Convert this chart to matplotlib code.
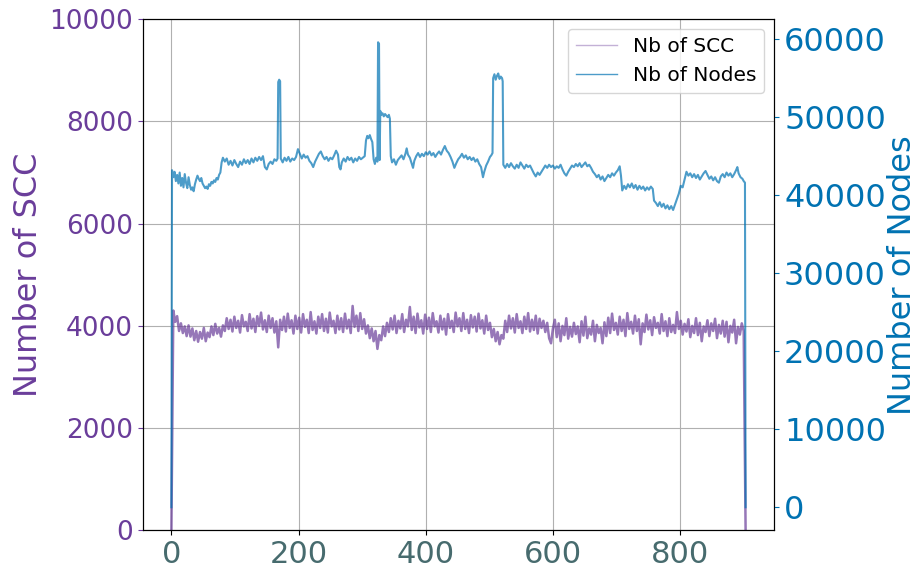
import numpy as np
import matplotlib
matplotlib.use("Agg")
import matplotlib.pyplot as plt
from matplotlib.lines import Line2D

# ---------------- data ----------------
scc_step = 3
scc_values = [
    0, 4300, 4080, 4190, 3900, 4050, 3860, 3990, 3800, 4010,
    3790, 3950, 3720, 3900, 3690, 3880, 3750, 3960, 3700, 3870,
    3780, 3990, 3820, 4040, 3850, 3960, 3790, 4010, 3900, 4150,
    3940, 4120, 3890, 4180, 3960, 4100, 3870, 4210, 3990, 4080,
    3900, 4230, 3950, 4140, 3880, 4190, 4000, 4260, 3930, 4110,
    3880, 4200, 3960, 4150, 3870, 4090, 3580, 4120, 3920, 4180,
    3890, 4240, 3960, 4110, 3850, 4200, 3940, 4160, 3870, 4230,
    3980, 4120, 3860, 4270, 3920, 4090, 3850, 4180, 3960, 4230,
    3900, 4140, 3870, 4260, 3990, 4100, 3860, 4200, 3930, 4150,
    3880, 4240, 3950, 4120, 3860, 4390, 3980, 4200, 3900, 4250,
    3940, 4130, 3850, 4010, 3760, 3950, 3700, 3900, 3550, 3820,
    3720, 3990, 3800, 4060, 3880, 4150, 3930, 4200, 3860, 4100,
    3950, 4230, 3880, 4120, 3990, 4370, 3920, 4180, 3860, 4240,
    3970, 4110, 3850, 4220, 3940, 4160, 3880, 4250, 3990, 4090,
    3870, 4200, 3930, 4140, 3830, 4230, 3960, 4100, 3880, 4260,
    3990, 4150, 3900, 4250, 3940, 4120, 3860, 4210, 3970, 4180,
    3890, 4240, 3950, 4110, 3850, 4200, 3920, 4060, 3780, 3940,
    3700, 3880, 3640, 3820, 3750, 4100, 3880, 4200, 3950, 4150,
    3870, 4230, 3960, 4090, 3860, 4180, 3940, 4250, 3890, 4120,
    3920, 4200, 3850, 4140, 3960, 4100, 3880, 4060, 3760, 3660,
    3950, 4120, 3780, 4050, 3700, 4000, 3820, 4150, 3750, 3980,
    3790, 4060, 3840, 3990, 3680, 4090, 3810, 4180, 3760, 3950,
    3830, 4100, 3700, 4020, 3860, 3960, 3660, 4070, 3800, 4160,
    3860, 4240, 3920, 4060, 3830, 4180, 3900, 4120, 3800, 4250,
    3940, 4080, 3850, 4200, 3900, 4130, 3640, 4050, 3880, 4220,
    3930, 4110, 3820, 4170, 3960, 4060, 3850, 4230, 3900, 4090,
    3800, 4150, 3880, 4020, 3860, 4270, 3940, 4100, 3830, 4040,
    3890, 4130, 3780, 4000, 3860, 4150, 3820, 4060, 3700, 3990,
    3880, 4110, 3800, 4050, 3900, 4140, 3760, 4020, 3850, 4100,
    3790, 4080, 3680, 4000, 3870, 4120, 3660, 3980, 3830, 4050,
    3900, 0,
]

node_t = [
    0, 1, 3, 5, 7, 9, 11, 13, 15, 17, 19, 21, 23, 25, 27, 29, 31, 33, 35, 37,
    39, 41, 43, 45, 47, 49, 51, 53, 55, 57, 59, 61, 63, 65, 67, 69, 71, 73, 75, 77,
    79, 81, 84, 87, 90, 93, 96, 99, 102, 105, 108, 111, 114, 117, 120, 123, 126, 129, 132, 135,
    138, 141, 144, 147, 150, 153, 156, 159, 162, 165, 167, 168, 169.5, 171, 172, 175, 178, 181, 184, 187,
    190, 193, 196, 199, 202, 205, 208, 211, 214, 217, 220, 223, 226, 229, 232, 235, 238, 241, 244, 247,
    250, 253, 256, 259, 262, 264, 266, 268, 271, 274, 277, 280, 283, 286, 289, 292, 295, 298, 301, 304,
    306, 308, 310, 312, 314, 316, 318, 320, 322, 324, 325, 326.5, 327.5, 328.5, 330, 332, 334, 336, 338, 340,
    342, 343.6, 345, 347, 350, 353, 356, 359, 362, 365, 368, 370, 372, 375, 378, 380, 382, 385, 388, 391,
    394, 397, 400, 403, 406, 409, 412, 415, 418, 421, 424, 427, 430, 433, 436, 439, 442, 445, 448, 451,
    454, 457, 460, 463, 466, 469, 472, 475, 478, 481, 484, 487, 490, 492, 495, 498, 501, 503, 505, 506,
    508, 510, 512, 514, 516, 518, 520, 521, 522, 525, 528, 531, 534, 537, 540, 543, 546, 549, 552, 555,
    558, 561, 564, 567, 570, 573, 576, 579, 582, 585, 588, 591, 594, 597, 600, 603, 606, 609, 612, 615,
    618, 621, 624, 627, 630, 633, 636, 639, 642, 645, 648, 651, 654, 657, 660, 663, 666, 669, 672, 675,
    678, 681, 684, 687, 690, 693, 696, 699, 702, 705, 707, 709, 712, 715, 718, 721, 724, 727, 730, 733,
    736, 739, 742, 745, 748, 751, 754, 757, 759, 762, 765, 768, 771, 774, 777, 780, 783, 786, 789, 792,
    795, 798, 801, 804, 807, 810, 813, 816, 819, 822, 825, 828, 831, 834, 837, 840, 843, 846, 849, 852,
    855, 858, 861, 864, 867, 870, 873, 876, 879, 882, 885, 888, 890, 892, 895, 898, 900, 902, 903,
]
node_values = [
    0, 43200, 42300, 43000, 41800, 42600, 41500, 42900, 41200, 42200, 41000, 42700, 41600, 40900, 42300, 41300, 40700, 41000, 40500, 41400,
    42000, 42500, 42100, 41800, 42200, 41500, 41200, 40900, 41100, 40800, 41400, 41200, 41700, 41500, 41900, 41700, 42200, 42000, 42600, 42900,
    44200, 44800, 44300, 44700, 43900, 44400, 43800, 44500, 44000, 43600, 44300, 43900, 44600, 44100, 44500, 44000, 44700, 44200, 44800, 44400,
    44900, 44500, 45000, 43600, 43300, 44000, 44300, 44000, 44600, 44400, 44700, 54500, 54800, 54600, 44700, 44200, 44800, 44400, 44900, 44300,
    44700, 44500, 44900, 45900, 45300, 44700, 45200, 44800, 45000, 44400, 44100, 43600, 44300, 44800, 45300, 45600, 45000, 44600, 44900, 44400,
    44800, 44600, 45100, 45700, 45200, 43600, 43300, 44200, 44700, 44300, 44900, 44500, 44800, 44200, 44700, 44400, 44900, 44600, 44800, 45000,
    47000, 47600, 47300, 47700, 47200, 46800, 44600, 44000, 44800, 44300, 59600, 59400, 44500, 50800, 50300, 50500, 50100, 50400, 50200, 50000,
    50300, 49800, 45000, 44200, 44600, 43900, 44500, 44800, 45100, 44600, 45300, 46000, 45200, 44800, 44000, 43500, 44400, 45000, 45400, 44900,
    45300, 45000, 45500, 45200, 45600, 45100, 45400, 44900, 45300, 45600, 45200, 45800, 46300, 45700, 45400, 44900, 44300, 43500, 44100, 44600,
    44900, 45300, 44800, 45100, 44600, 44900, 44500, 44800, 44300, 44600, 44000, 43600, 42300, 43000, 43800, 44300, 44900, 45100, 45400, 55000,
    55500, 54800, 55300, 55600, 54900, 55200, 55000, 54600, 43900, 43500, 44000, 43600, 44100, 43700, 43400, 43900, 43500, 44200, 43800, 43400,
    43900, 43600, 43800, 43300, 42800, 42400, 42900, 42600, 43000, 43400, 43800, 43500, 43900, 43600, 43800, 43400, 43700, 43500, 43900, 43300,
    42800, 42500, 43000, 43400, 43800, 43600, 44000, 43700, 44100, 43600, 43900, 44200, 43700, 43900, 43500, 43000, 42700, 42300, 42600, 42000,
    42400, 41800, 42200, 42600, 42300, 42800, 42500, 42900, 43200, 43700, 42500, 40600, 41200, 40800, 41400, 41000, 41500, 40900, 41300, 40700,
    41200, 40800, 41100, 40600, 41000, 40700, 41100, 40800, 39300, 39000, 38600, 39100, 38500, 38900, 38300, 38700, 38200, 38600, 38100, 38800,
    39500, 40200, 41200, 41000, 42000, 43000, 42500, 42800, 42300, 42700, 42200, 42600, 42000, 42400, 42800, 43100, 42600, 42100, 42400, 41900,
    42300, 41800, 41600, 42400, 42700, 42300, 42900, 42500, 42800, 42300, 42700, 43200, 43600, 42800, 42300, 42100, 41800, 41600, 0,
]

x_ticks = [0, 200, 400, 600, 800]
left_ticks = [0, 2000, 4000, 6000, 8000, 10000]
right_ticks = [0, 10000, 20000, 30000, 40000, 50000, 60000]

# ---------------- style ----------------
PURPLE = "#6A3D9A"
BLUE = "#0072B2"
XCOL = "#476B6E"

fig = plt.figure(figsize=(9.17, 5.69), dpi=100)
ax1 = fig.add_axes([0.1556, 0.0677, 0.6888, 0.8989])
ax2 = ax1.twinx()

scc_t = np.arange(len(scc_values)) * scc_step
ax1.plot(scc_t, scc_values, color=PURPLE, alpha=0.7, lw=1.8)
ax2.plot(node_t, node_values, color=BLUE, alpha=0.7, lw=1.5)

ax1.set_ylim(0, 10000)
ax1.set_yticks(left_ticks)
ax1.set_xticks(x_ticks)
ax2.set_yticks(right_ticks)

ax1.grid(True, color="#b0b0b0", lw=0.8)
ax1.set_ylabel("Number of SCC", color=PURPLE, fontsize=23)
ax2.set_ylabel("Number of Nodes", color=BLUE, fontsize=23, labelpad=1)
ax1.tick_params(axis="y", colors=PURPLE, labelsize=19)
ax2.tick_params(axis="y", colors=BLUE, labelsize=23)
ax1.tick_params(axis="x", labelcolor=XCOL, labelsize=22)

handles = [
    Line2D([], [], color=PURPLE, alpha=0.4, lw=1.0, label="Nb of SCC"),
    Line2D([], [], color=BLUE, alpha=0.7, lw=1.0, label="Nb of Nodes"),
]
ax2.legend(handles=handles, loc="upper right", fontsize=14.5)

fig.savefig("out.png", dpi=100)
